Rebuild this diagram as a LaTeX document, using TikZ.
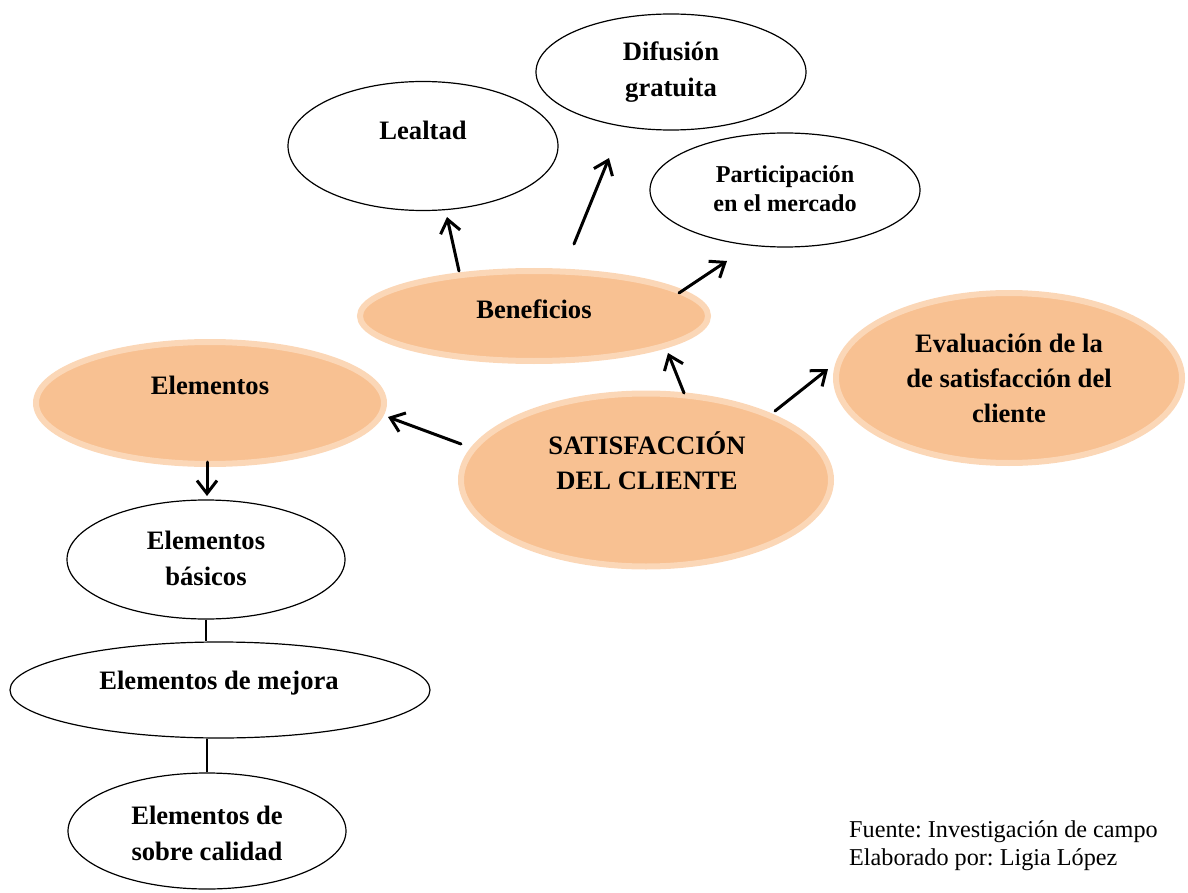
\documentclass[tikz,border=0pt]{standalone}
\usepackage{fontspec}
\setmainfont{Liberation Serif}
\usetikzlibrary{shapes.geometric,arrows.meta}
\frenchspacing

\definecolor{peach}{RGB}{248,193,146}
\definecolor{peachrim}{RGB}{251,215,183}

\tikzset{
  hub/.style={ellipse, inner sep=0pt, fill=peach, draw=peachrim, line width=6pt},
  leaf/.style={ellipse, inner sep=0pt, draw=black, line width=1.2pt},
  lbl/.style={anchor=base, inner sep=0pt, font=\bfseries\fontsize{26.6}{30}\selectfont},
  lblsm/.style={anchor=base, inner sep=0pt, font=\bfseries\fontsize{24.2}{28}\selectfont},
  note/.style={anchor=base west, inner sep=0pt, font=\fontsize{24.2}{28}\selectfont},
  arr/.style={-{Straight Barb[length=13pt,width=20pt,line width=3pt]}, line width=3pt, line cap=round},
  link/.style={line width=2pt}
}

\begin{document}
\begin{tikzpicture}[x=1pt,y=-1pt]
\useasboundingbox (0,0) rectangle (1188,893);

% ellipses of the concept map
\node[leaf, minimum width=270pt, minimum height=116pt] (dif) at (671,72) {};
\node[leaf, minimum width=270pt, minimum height=129pt] (leal) at (423,146) {};
\node[leaf, minimum width=270pt, minimum height=114pt] (part) at (785,190) {};
\node[hub, minimum width=348pt, minimum height=90pt] (ben) at (534,316) {};
\node[hub, minimum width=348pt, minimum height=122pt] (ele) at (210,403) {};
\node[hub, minimum width=370pt, minimum height=173pt] (sat) at (646,480) {};
\node[hub, minimum width=346pt, minimum height=170pt] (eva) at (1009,378) {};
\node[leaf, minimum width=278pt, minimum height=119pt] (bas) at (206,559.5) {};
\node[leaf, minimum width=420pt, minimum height=96pt] (mej) at (220,690) {};
\node[leaf, minimum width=278pt, minimum height=116pt] (sob) at (207,831) {};

% labels
\node[lbl] (difA) at (671,61) {Difusión};
\node[lbl] (difB) at (671,97) {gratuita};
\node[lbl] (lealA) at (423,140) {Lealtad};
\node[lblsm] (partA) at (785,183) {Participación};
\node[lblsm] (partB) at (785,212) {en el mercado};
\node[lbl] (benA) at (534,318) {Beneficios};
\node[lbl] (eleA) at (210,394) {Elementos};
\node[lbl] (satA) at (647,454) {SATISFACCIÓN};
\node[lbl] (satB) at (647,489) {DEL CLIENTE};
\node[lbl] (evaA) at (1009,352) {Evaluación de la};
\node[lbl] (evaB) at (1009,387) {de satisfacción del};
\node[lbl] (evaC) at (1009,422) {cliente};
\node[lbl] (basA) at (206,549) {Elementos};
\node[lbl] (basB) at (206,585) {básicos};
\node[lbl] (mejA) at (219,689) {Elementos de mejora};
\node[lbl] (sobA) at (207,824) {Elementos de};
\node[lbl] (sobB) at (207,860) {sobre calidad};

\node[note] (fuente) at (849,837) {Fuente: Investigación de campo};
\node[note] (autor) at (849,865) {Elaborado por: Ligia López};

% arrow ends
\coordinate (b2lS) at (459,271);
\coordinate (b2lT) at (447,217);
\coordinate (b2dS) at (574,244);
\coordinate (b2dT) at (609,158);
\coordinate (b2pS) at (679,293);
\coordinate (b2pT) at (727,261);
\coordinate (s2bS) at (684,393);
\coordinate (s2bT) at (668,353);
\coordinate (s2eS) at (461,444);
\coordinate (s2eT) at (388,417);
\coordinate (s2vS) at (775,411);
\coordinate (s2vT) at (828,369);
\coordinate (e2bS) at (207,462);
\coordinate (e2bT) at (207,496);

\draw[arr] (b2lS) -- (b2lT);
\draw[arr] (b2dS) -- (b2dT);
\draw[arr] (b2pS) -- (b2pT);
\draw[arr] (s2bS) -- (s2bT);
\draw[arr] (s2eS) -- (s2eT);
\draw[arr] (s2vS) -- (s2vT);
\draw[arr] (e2bS) -- (e2bT);

% plain links between the element levels
\draw[link] (bas.south) -- (bas.south |- mej.north);
\draw[link] (sob.north) -- (sob.north |- mej.south);
\end{tikzpicture}
\end{document}
